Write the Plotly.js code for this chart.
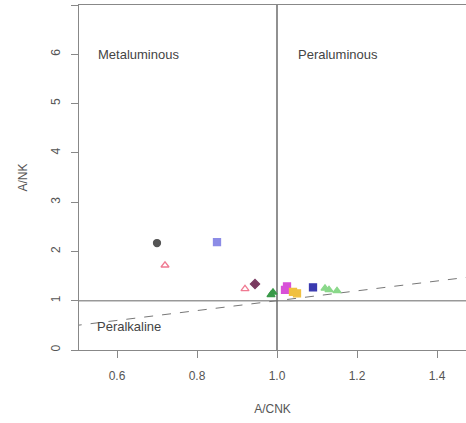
<!DOCTYPE html>
<html>
<head>
<meta charset="utf-8">
<script src="https://cdn.plot.ly/plotly-3.0.1.min.js"></script>
<style>html,body{margin:0;padding:0;background:#fff;}#chart{width:466px;height:423px;}</style>
</head>
<body>
<div id="chart"></div>
<script>
// Sample groups (A/CNK, A/NK)
const groupNames = ["S1","S2","S3","S4","S5","S6","S7","S8","S9","S10"];
const acnk = [[0.70],[0.85],[0.72],[0.92],[0.945],[0.99,0.985],[1.025,1.02],[1.04,1.05],[1.09],[1.13,1.15,1.12]];
const ank  = [[2.17],[2.19],[1.72],[1.24],[1.34],[1.17,1.12],[1.29,1.22],[1.18,1.15],[1.27],[1.22,1.20,1.25]];
const colors = ["#555555","#8c8ce6","#f07a92","#f07a92","#7a3a60","#3a9a4a","#d850d8","#f0c040","#3a3ab0","#8ad88a"];
const symbols = ["circle","square","triangle-up-open","triangle-up-open","diamond","triangle-up","square","square","square","triangle-up"];

// Reference lines
const divX = [1, 1], divY = [0, 7];
const hX = [0.4, 1.6], hY = [1, 1];
const dX = [0.4, 1.6], dY = [0.4, 1.6];

// Field labels
const fieldLabels = ["Metaluminous","Peraluminous","Peralkaline"];
const fieldX = [0.548, 1.048, 0.545];
const fieldY = [6.0, 6.0, 0.48];

const traces = [
  {x: hX, y: hY, mode: "lines", line: {color: "#999", width: 1.5}, hoverinfo: "skip", showlegend: false},
  {x: divX, y: divY, mode: "lines", line: {color: "#555", width: 1.3}, hoverinfo: "skip", showlegend: false},
  {x: dX, y: dY, mode: "lines", line: {color: "#777", width: 1, dash: "dash"}, hoverinfo: "skip", showlegend: false}
];
groupNames.forEach((n, i) => {
  traces.push({x: acnk[i], y: ank[i], name: n, mode: "markers", showlegend: false,
    marker: {color: colors[i], symbol: symbols[i], size: 7, line: {color: colors[i], width: 1.3}}});
});

const annotations = fieldLabels.map((t, i) => ({
  x: fieldX[i], y: fieldY[i], text: t, showarrow: false, xanchor: "left", yanchor: "middle",
  font: {family: "Liberation Sans, Arial, sans-serif", size: 13, color: "#444"}
}));

const layout = {
  width: 466, height: 423,
  margin: {l: 79, r: 0, t: 5, b: 73},
  paper_bgcolor: "#fff", plot_bgcolor: "#fff",
  showlegend: false,
  font: {family: "Liberation Sans, Arial, sans-serif", size: 12, color: "#555"},
  xaxis: {
    range: [0.505, 1.4725], tickvals: [0.6, 0.8, 1.0, 1.2, 1.4], ticktext: ["0.6","0.8","1.0","1.2","1.4"],
    showgrid: false, zeroline: false, showline: true, mirror: true, linecolor: "#888", linewidth: 1.3,
    ticks: "outside", ticklen: 7, tickcolor: "#888", tickfont: {size: 12, color: "#555"}, ticklabelstandoff: 7,
    title: {text: "A/CNK", font: {size: 12, color: "#555"}, standoff: 23}
  },
  yaxis: {
    range: [0, 7], tickvals: [0,1,2,3,4,5,6,7],
    showgrid: false, zeroline: false, showline: true, mirror: true, linecolor: "#888", linewidth: 1.3,
    ticks: "outside", ticklen: 7, tickcolor: "#888", tickangle: -90, tickfont: {size: 12, color: "#555"}, ticklabelstandoff: 6,
    title: {text: "A/NK", font: {size: 12, color: "#555"}, standoff: 18}
  },
  annotations: annotations
};

Plotly.newPlot("chart", traces, layout, {displayModeBar: false, staticPlot: true});
</script>
</body>
</html>
